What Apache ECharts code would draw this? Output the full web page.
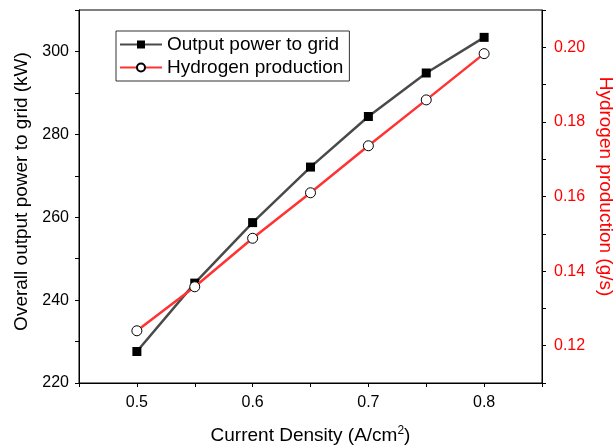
<!DOCTYPE html>
<html>
<head>
<meta charset="utf-8">
<script src="https://cdn.jsdelivr.net/npm/echarts@6/dist/echarts.min.js"></script>
<style>html,body{margin:0;padding:0;background:#fff}#c{width:613px;height:445px}</style>
</head>
<body>
<div id="c"></div>
<script>
const currentDensity = [0.5, 0.55, 0.6, 0.65, 0.7, 0.75, 0.8];
const outputPower = [227.6, 244.1, 258.7, 272.1, 284.3, 294.8, 303.4];
const hydrogenProduction = [0.1240, 0.1358, 0.1488, 0.1610, 0.1736, 0.1859, 0.1983];
const seriesNames = ['Output power to grid', 'Hydrogen production'];

const chart = echarts.init(document.getElementById('c'), null, {renderer: 'canvas'});
const font = 'Liberation Sans, Arial, sans-serif';
const tickStyle = {show: true, inside: false, length: 4, lineStyle: {color: '#000', width: 1}};
chart.setOption({
  animation: false,
  backgroundColor: '#fff',
  textStyle: {fontFamily: font},
  grid: {left: 79, right: 71, top: 10, bottom: 62, containLabel: false, outerBoundsMode: 'none',
    show: true, borderColor: '#000', borderWidth: 1, backgroundColor: 'transparent'},
  legend: {
    orient: 'vertical', left: 116, top: 31,
    padding: [4, 6, 4, 3], itemGap: 4, itemWidth: 42, itemHeight: 10,
    borderColor: '#333', borderWidth: 1,
    textStyle: {fontSize: 19, color: '#000', fontFamily: font},
    data: seriesNames
  },
  xAxis: {
    type: 'value', min: 0.45, max: 0.85, interval: 0.05,
    name: 'Current Density (A/cm{s|2})', nameLocation: 'middle', nameGap: 42,
    nameTextStyle: {fontSize: 19, color: '#000', fontFamily: font,
      rich: {s: {fontSize: 12, color: '#000', fontFamily: font, padding: [0, 0, 10, 0]}}},
    axisLine: {show: true, onZero: false, lineStyle: {color: '#000', width: 1}},
    axisTick: tickStyle,
    splitLine: {show: false},
    axisLabel: {fontSize: 16, color: '#000', margin: 12, fontFamily: font,
      formatter: v => (Math.round(v * 100) % 10 === 0 ? v.toFixed(1) : '')}
  },
  yAxis: [{
    type: 'value', min: 220, max: 310, interval: 10, position: 'left',
    name: 'Overall output power to grid (kW)', nameLocation: 'middle', nameGap: 47,
    nameTextStyle: {fontSize: 19, color: '#000', fontFamily: font, padding: [0, 0, 0, 10]},
    axisLine: {show: true, onZero: false, lineStyle: {color: '#000', width: 1}},
    axisTick: tickStyle,
    splitLine: {show: false},
    axisLabel: {fontSize: 16, color: '#000', margin: 10, fontFamily: font,
      formatter: v => (Math.round(v) % 20 === 0 ? String(Math.round(v)) : '')}
  }, {
    type: 'value', min: 0.11, max: 0.21, interval: 0.01, position: 'right',
    name: 'Hydrogen production (g/s)', nameLocation: 'middle', nameGap: 53, nameRotate: -90,
    nameTextStyle: {fontSize: 19, color: '#ff0000', fontFamily: font, padding: [0, 20, 0, 0]},
    axisLine: {show: true, onZero: false, lineStyle: {color: '#000', width: 1}},
    axisTick: tickStyle,
    splitLine: {show: false},
    axisLabel: {fontSize: 16, color: '#ff0000', margin: 12, fontFamily: font,
      formatter: v => (Math.round(v * 100) % 2 === 0 ? v.toFixed(2) : '')}
  }],
  series: [{
    name: seriesNames[0], type: 'line', yAxisIndex: 0,
    data: currentDensity.map((x, i) => [x, outputPower[i]]),
    symbol: 'rect', symbolSize: 9,
    lineStyle: {color: '#4a4a4a', width: 2.5},
    itemStyle: {color: '#000', borderColor: '#000', borderWidth: 0},
    z: 3
  }, {
    name: seriesNames[1], type: 'line', yAxisIndex: 1,
    data: currentDensity.map((x, i) => [x, hydrogenProduction[i]]),
    symbol: 'circle', symbolSize: 10,
    lineStyle: {color: '#ff3333', width: 2.5},
    itemStyle: {color: '#fff', borderColor: '#000', borderWidth: 1},
    z: 4
  }]
});
</script>
</body>
</html>
